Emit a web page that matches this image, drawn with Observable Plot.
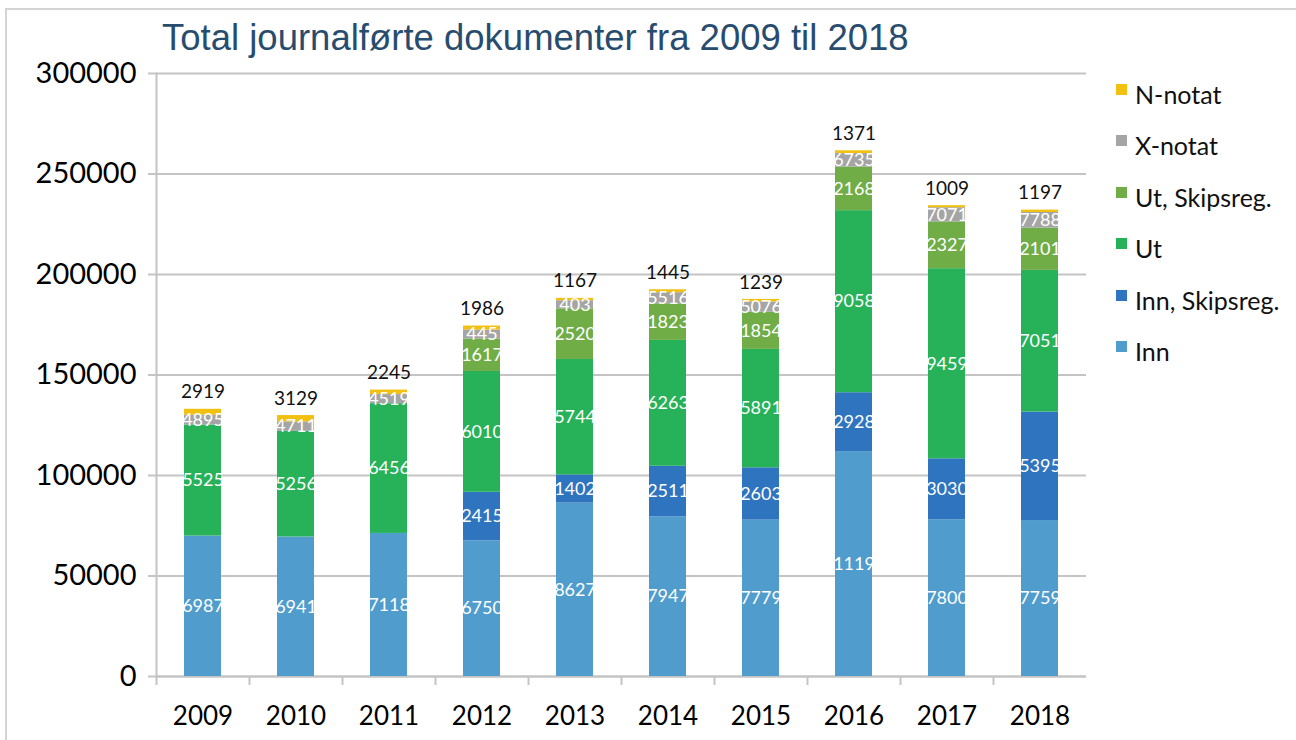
<!DOCTYPE html>
<html><head><meta charset="utf-8">
<script src="https://cdn.jsdelivr.net/npm/d3@7"></script>
<script src="https://cdn.jsdelivr.net/npm/@observablehq/plot@0.6"></script>
<style>
body{margin:0;background:#fff;font-family:Lato,sans-serif}
#wrap{position:relative;width:1296px;height:740px;overflow:hidden}
#border{position:absolute;left:5px;top:8px;right:-4px;bottom:-4px;border-top:2px solid #d4d4d4;border-left:2px solid #d4d4d4}
#chart{position:absolute;left:0;top:0}
#title{position:absolute;left:162px;top:17px;font:36.5px "Liberation Sans",Arial,sans-serif;color:#284c6e;white-space:nowrap}
#legend{position:absolute;left:1116px;top:79px}
.item{position:absolute;left:0;white-space:nowrap;font-size:25px;color:#111;font-family:Lato,sans-serif}
.sw{display:inline-block;width:11px;height:11px;margin-right:8px;vertical-align:9px}
</style>
</head><body>
<div id="wrap">
  <div id="border"></div>
  <div id="chart"></div>
  <div id="title">Total journalførte dokumenter fra 2009 til 2018</div>
  <div id="legend"></div>
</div>
<script>
const years = ["2009","2010","2011","2012","2013","2014","2015","2016","2017","2018"];
const seriesNames = ["Inn","Inn, Skipsreg.","Ut","Ut, Skipsreg.","X-notat","N-notat"];
const seriesColors = ["#4f9ccd","#2f74bf","#27b25a","#70ad47","#a5a5a5","#f2c010"];
const inn     = [69870, 69410, 71180, 67500, 86270, 79470, 77790, 111900, 78000, 77590];
const innSkip = [0, 0, 0, 24153, 14020, 25110, 26039, 29280, 30300, 53950];
const ut      = [55250, 52560, 64560, 60100, 57440, 62630, 58910, 90580, 94590, 70510];
const utSkip  = [0, 0, 0, 16170, 25200, 18230, 18540, 21680, 23270, 21010];
const xNotat  = [4895, 4711, 4519, 4450, 4030, 5516, 5076, 6735, 7071, 7788];
const nNotat  = [2919, 3129, 2245, 1986, 1167, 1445, 1239, 1371, 1009, 1197];
const yTicks  = [0, 50000, 100000, 150000, 200000, 250000, 300000];

const seriesValues = [inn, innSkip, ut, utSkip, xNotat, nNotat];
const rows = [];
years.forEach((yr, i) => {
  seriesNames.forEach((s, j) => rows.push({year: yr, series: s, value: seriesValues[j][i]}));
});

// labels inside the narrow bars are cut off, as in the original
const segLabel = d => {
  if (d.series === "N-notat" || d.value <= 0) return "";
  const n = (d.series === "X-notat" && d.value % 10 === 0) ? 3 : 4;
  return String(d.value).slice(0, n);
};

const W = 1296, H = 740, mL = 156, mR = 210, mT = 73, mB = 64;
const step = (W - mL - mR) / years.length;
const grey = "#c4c4c4";

const chart = Plot.plot({
  width: W, height: H,
  marginLeft: mL, marginRight: mR, marginTop: mT, marginBottom: mB,
  style: {background: "transparent", fontFamily: "Lato, sans-serif"},
  x: {domain: years, paddingInner: 0.6, paddingOuter: 0.3, label: null},
  y: {domain: [0, 300000], label: null},
  color: {domain: seriesNames, range: seriesColors},
  marks: [
    Plot.gridY(yTicks, {stroke: grey, strokeOpacity: 1, strokeWidth: 2}),
    Plot.axisY({ticks: yTicks, tickSize: 8, tickPadding: 12, fontSize: 29, stroke: grey, strokeWidth: 2, fill: "#000", tickFormat: d => String(d), label: null}),
    Plot.axisX({tickSize: 0, tickPadding: 30, fontSize: 26, fill: "#000", label: null}),
    Plot.axisX({tickSize: 9, tickFormat: () => "", dx: -step / 2, stroke: grey, strokeWidth: 2, label: null}),
    Plot.frame({anchor: "left", stroke: grey, strokeWidth: 2}),
    Plot.ruleY([0], {stroke: grey, strokeWidth: 2}),
    Plot.barY(rows, Plot.stackY({x: "year", y: "value", z: "series", fill: "series", order: seriesNames})),
    Plot.text(rows, Plot.stackY({x: "year", y: "value", z: "series", order: seriesNames,
      text: segLabel, fill: "white", fontSize: 18})),
    Plot.text(rows, Plot.stackY2({x: "year", y: "value", z: "series", order: seriesNames,
      text: d => d.series === "N-notat" ? String(d.value) : "",
      fill: "#111", fontSize: 19, dy: -17}))
  ]
});
document.getElementById("chart").appendChild(chart);

const legend = document.getElementById("legend");
const legendOrder = seriesNames.slice().reverse();
legendOrder.forEach((s, k) => {
  const div = document.createElement("div");
  div.className = "item";
  div.style.top = (k * 51.4) + "px";
  const sw = document.createElement("span");
  sw.className = "sw";
  sw.style.background = seriesColors[seriesNames.indexOf(s)];
  div.appendChild(sw);
  div.appendChild(document.createTextNode(s));
  legend.appendChild(div);
});
</script>
</body></html>
